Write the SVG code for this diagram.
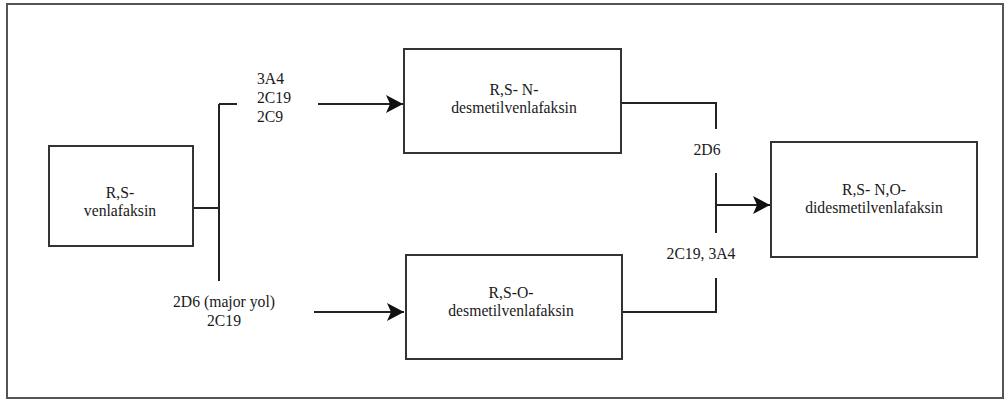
<svg xmlns="http://www.w3.org/2000/svg" width="1006" height="400" viewBox="0 0 1006 400">
<style>
.box{fill:#fff;stroke:#333;stroke-width:2}
.ln{fill:none;stroke:#222;stroke-width:2}
text{font-family:"Liberation Serif","Times New Roman",serif;font-size:15.7px;fill:#1a1a1a}
.c{text-anchor:middle}
</style>
<defs>
<marker id="ah" markerUnits="userSpaceOnUse" markerWidth="17" markerHeight="18" refX="17" refY="9" orient="auto">
<path d="M0,0 L17,9 L0,18 L4,9 Z" fill="#111"/>
</marker>
</defs>
<rect x="7" y="4" width="996" height="394" fill="#fff" stroke="#555" stroke-width="2"/>
<g id="connectors">
<path class="ln" d="M193,208 H219 M219,104 V281 M219,104 H237"/>
<path class="ln" d="M318,104 H403" marker-end="url(#ah)"/>
<path class="ln" d="M314,312 H404" marker-end="url(#ah)"/>
<path class="ln" d="M621,103 H716 V129"/>
<path class="ln" d="M716,173 V233"/>
<path class="ln" d="M716,205 H770" marker-end="url(#ah)"/>
<path class="ln" d="M622,312 H716 V278"/>
<text x="257" y="84">3A4</text>
<text x="257" y="103">2C19</text>
<text x="257" y="122">2C9</text>
<text class="c" x="224" y="307">2D6 (major yol)</text>
<text class="c" x="224" y="326">2C19</text>
<text class="c" x="707" y="155">2D6</text>
<text class="c" x="701" y="259">2C19, 3A4</text>
</g>
<g id="node-venlafaksin">
<rect class="box" x="49" y="146" width="144" height="100"/>
<text class="c" x="120" y="198">R,S-</text>
<text class="c" x="120" y="216">venlafaksin</text>
</g>
<g id="node-n-desmetil">
<rect class="box" x="404" y="49" width="217" height="104"/>
<text class="c" x="514" y="95">R,S- N-</text>
<text class="c" x="514" y="113">desmetilvenlafaksin</text>
</g>
<g id="node-o-desmetil">
<rect class="box" x="406" y="255" width="216" height="104"/>
<text class="c" x="511" y="298">R,S-O-</text>
<text class="c" x="511" y="316">desmetilvenlafaksin</text>
</g>
<g id="node-didesmetil">
<rect class="box" x="771" y="142" width="206" height="115"/>
<text class="c" x="874" y="195">R,S- N,O-</text>
<text class="c" x="874" y="213">didesmetilvenlafaksin</text>
</g>
</svg>
